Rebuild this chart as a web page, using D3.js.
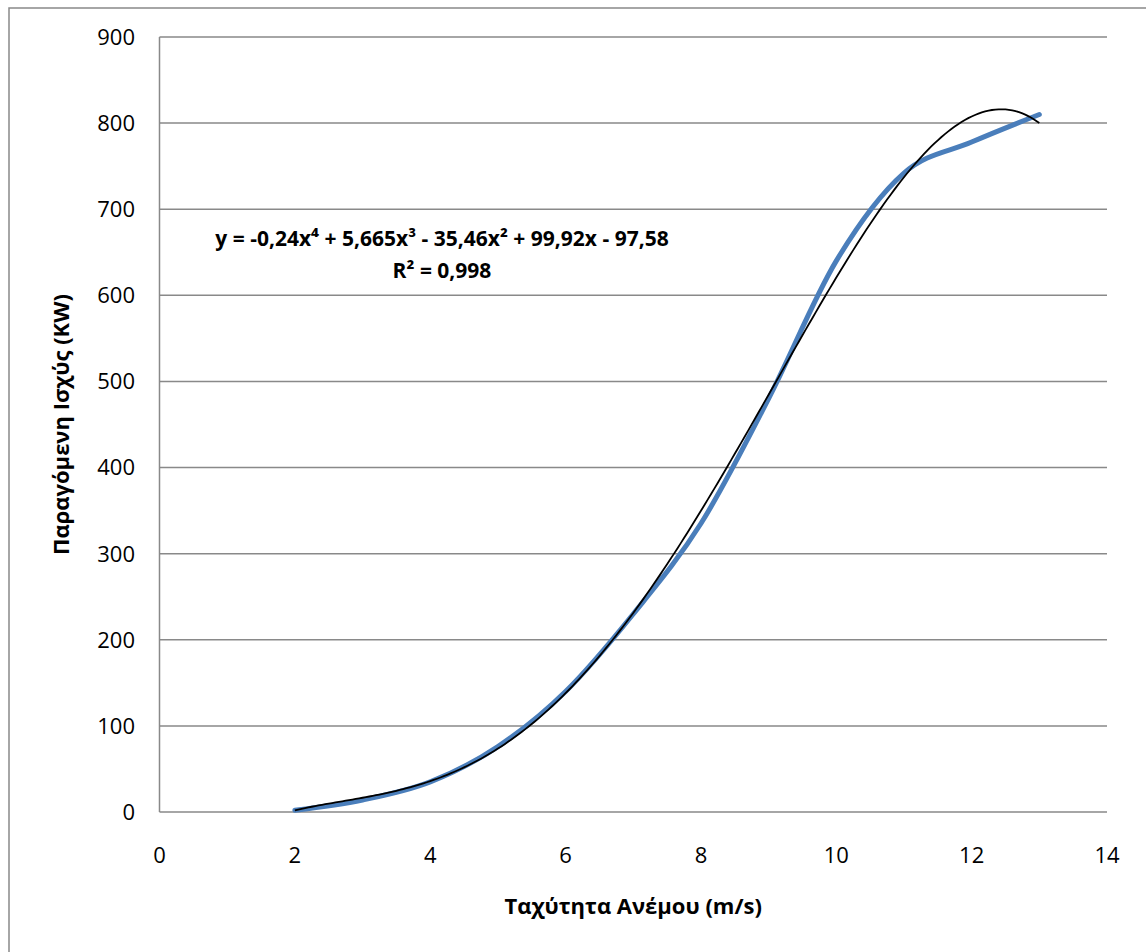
<!DOCTYPE html>
<html lang="el">
<head>
<meta charset="utf-8">
<title>Καμπύλη ισχύος</title>
<script src="https://cdn.jsdelivr.net/npm/d3@7"></script>
<style>
  body { margin: 0; background: #fff; }
  text { font-family: "Open Sans", "Noto Sans", sans-serif; fill: #000; }
</style>
</head>
<body>
<script>
// data
var windSpeed = [2, 3, 4, 5, 6, 7, 8, 9, 10, 11, 12, 13];
var power     = [2, 14, 35, 76, 140, 230, 335, 480, 640, 742, 778, 810];

// trendline coefficients as printed on the chart (x^4 .. x^0)
var trendCoef = [-0.24, 5.665, -35.46, 99.92, -97.58];
var trendLabel = "y = -0,24x⁴ + 5,665x³ - 35,46x² + 99,92x - 97,58";
var r2Label = "R² = 0,998";

var xTicks = [0, 2, 4, 6, 8, 10, 12, 14];
var yTicks = [0, 100, 200, 300, 400, 500, 600, 700, 800, 900];

var W = 1146, H = 952;
var plotL = 159.5, plotR = 1107, plotT = 37, plotB = 812;

var svg = d3.select("body").append("svg")
    .attr("width", W)
    .attr("height", H);

// outer chart frame
svg.append("rect")
    .attr("x", 9).attr("y", 8)
    .attr("width", W + 20).attr("height", H + 20)
    .attr("fill", "none")
    .attr("stroke", "#898989")
    .attr("stroke-width", 1.5);

var x = d3.scaleLinear().domain([0, 14]).range([plotL, plotR]);
var y = d3.scaleLinear().domain([0, 900]).range([plotB, plotT]);

// gridlines
svg.append("g").selectAll("line")
    .data(yTicks)
    .enter().append("line")
    .attr("x1", plotL).attr("x2", plotR)
    .attr("y1", function(d) { return y(d); })
    .attr("y2", function(d) { return y(d); })
    .attr("stroke", "#898989")
    .attr("stroke-width", 1.5);

// y axis line
svg.append("line")
    .attr("x1", plotL).attr("x2", plotL)
    .attr("y1", plotT).attr("y2", plotB)
    .attr("stroke", "#898989")
    .attr("stroke-width", 1.5);

// tick labels
svg.append("g").selectAll("text")
    .data(yTicks)
    .enter().append("text")
    .attr("x", 135)
    .attr("y", function(d) { return y(d); })
    .attr("dy", "0.36em")
    .attr("text-anchor", "end")
    .style("font-size", "22px")
    .text(function(d) { return d; });

svg.append("g").selectAll("text")
    .data(xTicks)
    .enter().append("text")
    .attr("x", function(d) { return x(d); })
    .attr("y", 863)
    .attr("text-anchor", "middle")
    .style("font-size", "22px")
    .text(function(d) { return d; });

// axis titles
svg.append("text")
    .attr("x", (plotL + plotR) / 2)
    .attr("y", 914)
    .attr("text-anchor", "middle")
    .style("font-size", "22px")
    .style("font-weight", "bold")
    .text("Ταχύτητα Ανέμου (m/s)");

svg.append("text")
    .attr("transform", "translate(69," + (plotT + plotB) / 2 + ") rotate(-90)")
    .attr("text-anchor", "middle")
    .style("font-size", "22px")
    .style("font-weight", "bold")
    .text("Παραγόμενη Ισχύς (KW)");

// data series, smoothed like the spreadsheet line
var points = windSpeed.map(function(d, i) { return [d, power[i]]; });
var line = d3.line()
    .x(function(d) { return x(d[0]); })
    .y(function(d) { return y(d[1]); })
    .curve(d3.curveCatmullRom.alpha(0));

svg.append("path")
    .datum(points)
    .attr("d", line)
    .attr("fill", "none")
    .attr("stroke", "#4a7ebb")
    .attr("stroke-width", 5)
    .attr("stroke-linecap", "round");

// polynomial trendline from the printed coefficients
function poly(v) {
  return trendCoef.reduce(function(acc, c) { return acc * v + c; }, 0);
}
var trendPts = d3.range(windSpeed[0], windSpeed[windSpeed.length - 1] + 0.001, 0.05)
    .map(function(v) { return [v, poly(v)]; });

svg.append("path")
    .datum(trendPts)
    .attr("d", d3.line()
        .x(function(d) { return x(d[0]); })
        .y(function(d) { return y(d[1]); }))
    .attr("fill", "none")
    .attr("stroke", "#000")
    .attr("stroke-width", 1.8);

// trendline label
svg.append("text")
    .attr("x", 442).attr("y", 246)
    .attr("text-anchor", "middle")
    .style("font-size", "21px")
    .style("font-weight", "bold")
    .text(trendLabel);

svg.append("text")
    .attr("x", 442).attr("y", 278)
    .attr("text-anchor", "middle")
    .style("font-size", "21px")
    .style("font-weight", "bold")
    .text(r2Label);
</script>
</body>
</html>
